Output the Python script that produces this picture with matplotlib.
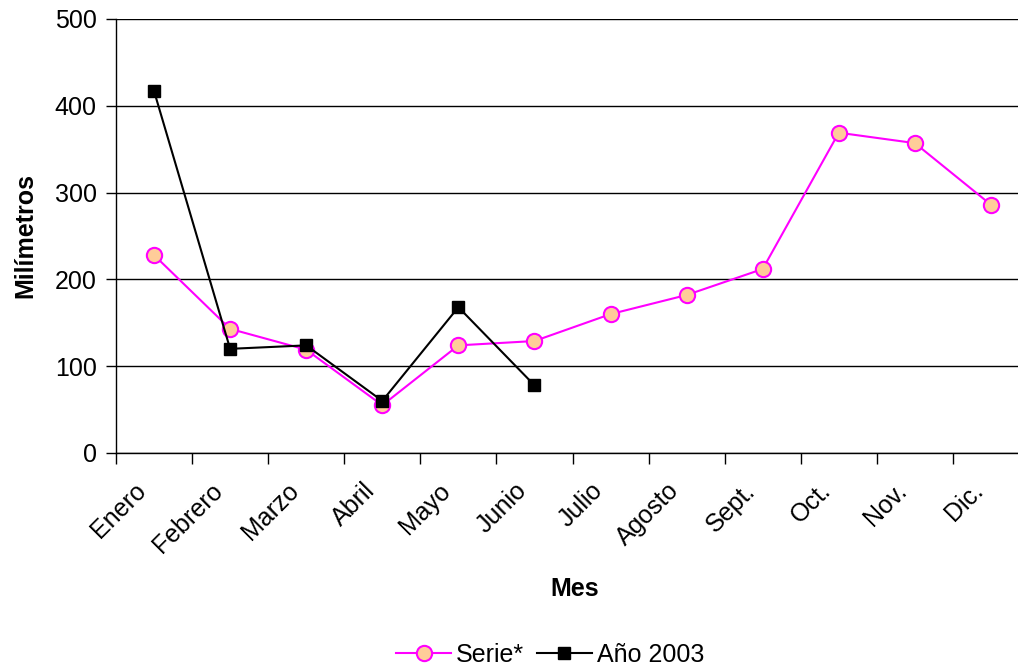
import matplotlib
matplotlib.use("Agg")
import matplotlib.pyplot as plt
import matplotlib.transforms as mtransforms
import numpy as np

months = ["Enero", "Febrero", "Marzo", "Abril", "Mayo", "Junio", "Julio",
          "Agosto", "Sept.", "Oct.", "Nov.", "Dic."]
serie = [228, 143, 119, 55, 124, 129, 160, 182, 212, 369, 357, 286]
anio_2003 = [417, 120, 124, 60, 168, 78]
yticks = [0, 100, 200, 300, 400, 500]

plt.rcParams['font.family'] = ['Liberation Sans', 'DejaVu Sans']
FS = 18

fig = plt.figure(figsize=(10.18, 6.66), dpi=100)
ax = fig.add_axes([116/1018, 1-453/666, 913/1018, (453-19)/666])

x = np.arange(len(months))
ax.plot(x, serie, color='#FF00FF', lw=1.5, marker='o', ms=11,
        mfc='#FFCC99', mec='#FF00FF', mew=1.5, label='Serie*', zorder=3)
ax.plot(x[:len(anio_2003)], anio_2003, color='black', lw=1.5, marker='s', ms=9,
        mfc='black', mec='black', label='Año 2003', zorder=4)

ax.set_xlim(-0.5, len(months) - 0.5)
ax.set_ylim(0, 500)
ax.set_yticks(yticks)
ax.yaxis.grid(True, color='black', lw=1)
ax.set_axisbelow(True)
ax.tick_params(axis='y', direction='out', length=7, width=1, labelsize=FS, pad=7)

ax.set_xticks(x)
ax.set_xticklabels(months, rotation=45, ha='right', rotation_mode='anchor', fontsize=FS)
ax.tick_params(axis='x', which='major', length=0, pad=14)
ax.set_xticks(np.arange(-0.5, len(months) + 0.5, 1), minor=True)
ax.tick_params(axis='x', which='minor', direction='out', length=8, width=1)
offset = mtransforms.ScaledTranslation(-20/100, -6/100, fig.dpi_scale_trans)
for lab in ax.get_xticklabels():
    lab.set_transform(lab.get_transform() + offset)

for s in ['top', 'right']:
    ax.spines[s].set_visible(False)
for s in ['left', 'bottom']:
    ax.spines[s].set_linewidth(1)
    ax.spines[s].set_color('black')

ax.set_ylabel('Milímetros', fontsize=FS, fontweight='bold')
ax.yaxis.set_label_coords(-79/913, 0.5)
fig.text(575/1018, 1-589/666, 'Mes', fontsize=FS, fontweight='bold', ha='center', va='center')

fig.legend(loc='center', bbox_to_anchor=(550/1018, 1-655/666), ncol=2, frameon=False,
           fontsize=FS, handlelength=2.2, handletextpad=0.2, columnspacing=0.5,
           borderaxespad=0)

fig.savefig('out.png', dpi=100)
